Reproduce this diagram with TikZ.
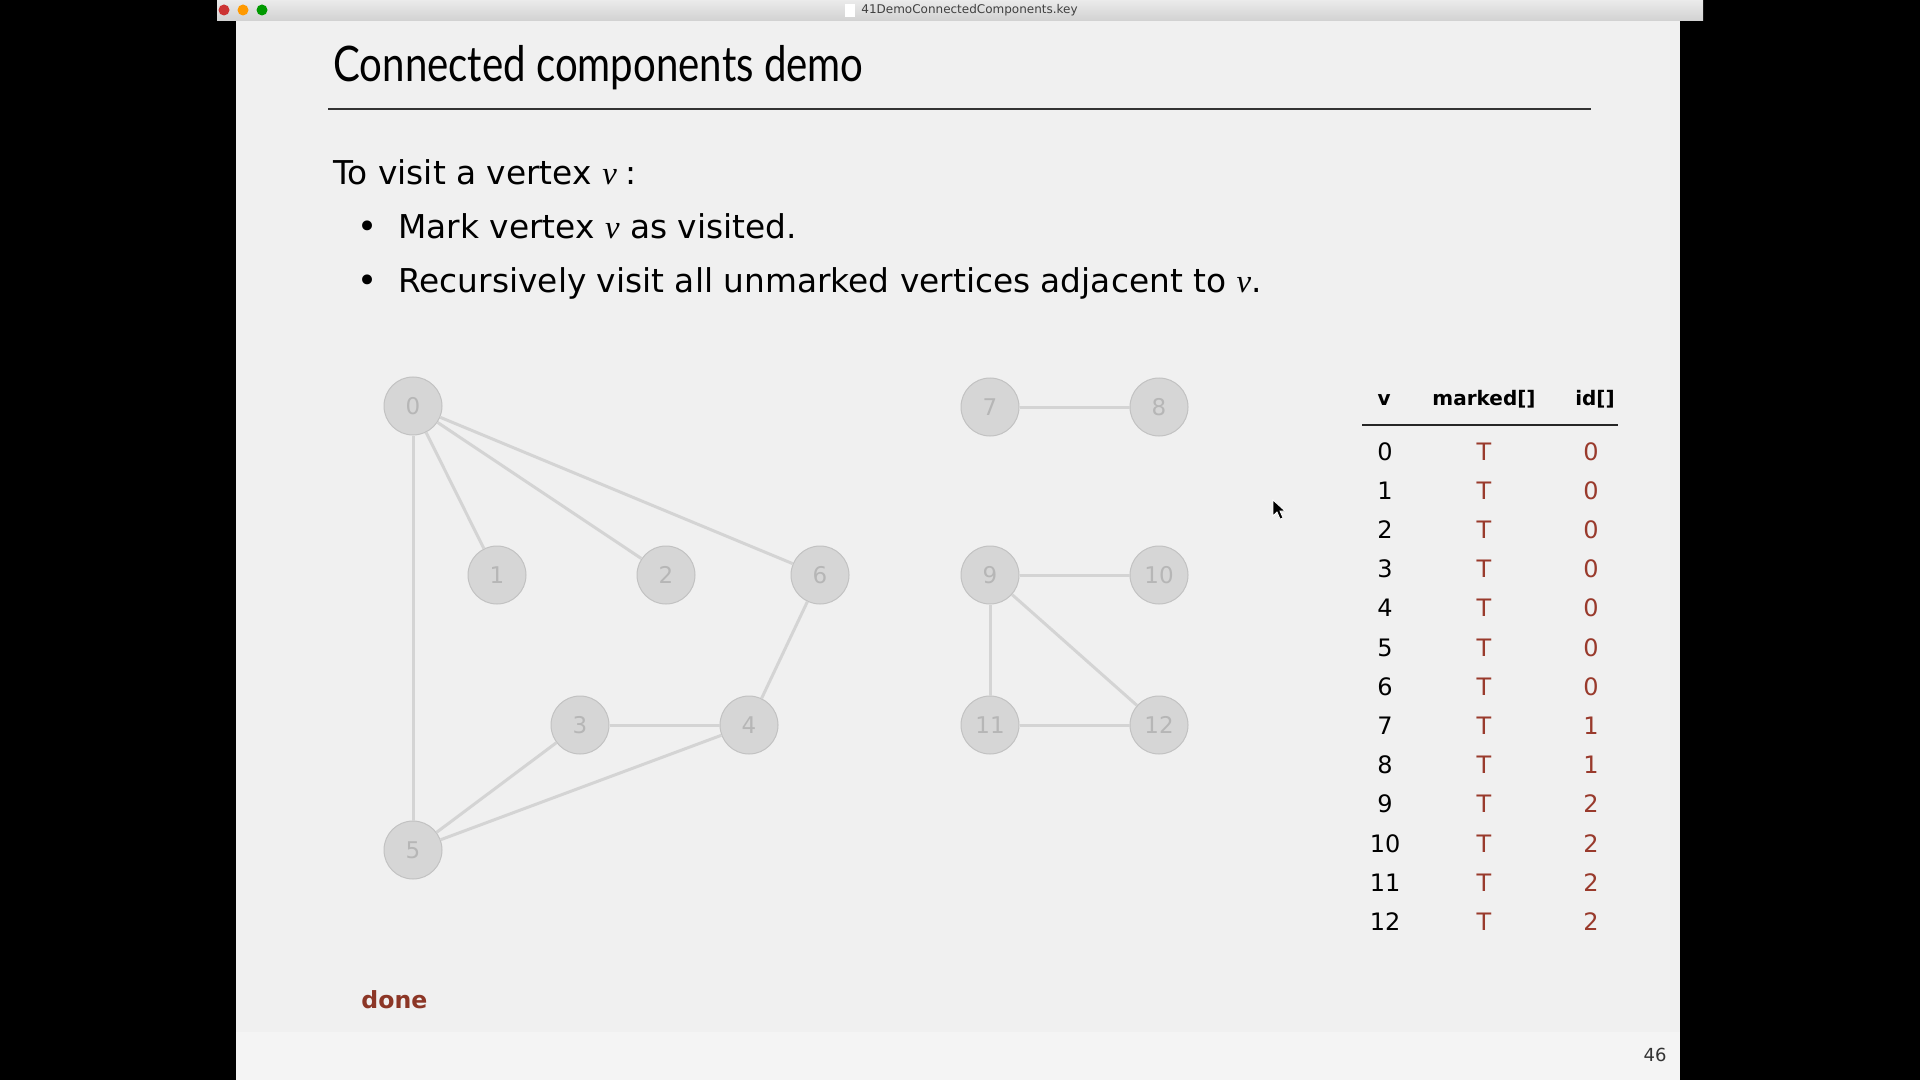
\documentclass[tikz,border=0pt]{standalone}
\usepackage{fontspec}
\setmainfont{DejaVu Sans}
\newfontfamily\titlefont{Lato}
\newfontfamily\varfont{Liberation Serif}
\usetikzlibrary{%
    calc,
    positioning
}
\definecolor{slidebg}{HTML}{F0F0F0}
\definecolor{bandbg}{HTML}{F4F4F4}
\definecolor{nodefill}{HTML}{D6D6D6}
\definecolor{nodeline}{HTML}{C2C2C2}
\definecolor{nodetext}{HTML}{B6B6B6}
\definecolor{edgegray}{HTML}{D4D4D4}
\definecolor{demored}{HTML}{993A2C}
\definecolor{donered}{HTML}{8C3626}
\tikzset{vertex/.style = {circle, fill=nodefill, draw=nodeline, line width=.5pt,
        minimum size=29pt, inner sep=0pt, text=nodetext,
        font=\fontsize{11.5}{12}\selectfont}}
\tikzset{graphedge/.style = {draw=edgegray, line width=1.5pt}}
\tikzset{bodytext/.style = {anchor=base west, inner sep=0pt, font=\fontsize{16.4}{20}\selectfont}}
\tikzset{headcell/.style = {anchor=base, inner sep=0pt, font=\fontsize{10}{12}\selectfont\bfseries}}
\tikzset{cell/.style = {anchor=base, inner sep=0pt, font=\fontsize{12}{14}\selectfont}}

\begin{document}
\begin{tikzpicture}[x=.5pt, y=-.5pt]
    \useasboundingbox (0,0) rectangle (1920,1080);
    \fill[black] (0,0) rectangle (1920,1080);
    \shade[top color=black!8, bottom color=black!18] (217,0) rectangle (1703,21);
    \fill[slidebg] (236,21) rectangle (1680,1080);
    \fill[bandbg] (236,1032) rectangle (1680,1080);
    \fill[red!75!black!80] (224,10) circle (5.5);
    \fill[orange!80!yellow] (243,10) circle (5.5);
    \fill[green!60!black] (262,10) circle (5.5);
    \fill[white] (845,4) rectangle (855,17);
    \node[anchor=west, inner sep=0pt, text=black!75, font=\fontsize{6}{7}\selectfont]
        (filename) at (861,10) {41DemoConnectedComponents.key};

    \node[anchor=base west, inner sep=0pt] (title) at (333,82)
        {\titlefont\fontsize{24.5}{28}\selectfont\scalebox{0.82}[1]{Connected components demo}};
    \draw[black!80, line width=1pt] (328,109) -- (1591,109);

    \node[bodytext] (visit) at (333,185) {To visit a vertex {\varfont\itshape v}\;:};
    \node[bodytext] (mark) at (398,239) {Mark vertex {\varfont\itshape v} as visited.};
    \node[bodytext] (recur) at (398,293) {Recursively visit all unmarked vertices adjacent to {\varfont\itshape v}.};
    \node[anchor=base, inner sep=0pt, font=\fontsize{17}{20}\selectfont] (b1) at (368,239) {\textbullet};
    \node[anchor=base, inner sep=0pt, font=\fontsize{17}{20}\selectfont] (b2) at (368,293) {\textbullet};

    \foreach \n/\x/\y in {%
        0/413/406, 1/497/575, 2/666/575, 6/820/575,
        3/580/725, 4/749/725, 5/413/850,
        7/990/407, 8/1159/407, 9/990/575, 10/1159/575,
        11/990/725, 12/1159/725%
        }
    \node[vertex] (\n) at (\x,\y) {\n};

    \foreach \a/\b in {0/5, 0/1, 0/2, 0/6, 6/4, 3/4, 3/5, 4/5,
        7/8, 9/10, 9/11, 9/12, 11/12}
    \draw[graphedge] (\a) -- (\b);

    \node[headcell] (hv) at (1384,405) {v};
    \node[headcell] (hmarked) at (1484,405) {marked[]};
    \node[headcell] (hid) at (1595,405) {id[]};
    \draw[black!85, line width=.75pt] (1362,425) -- (1618,425);

    \foreach \r/\c in {0/0, 1/0, 2/0, 3/0, 4/0, 5/0, 6/0, 7/1, 8/1, 9/2, 10/2, 11/2, 12/2} {
        \node[cell] (v\r) at (1385,{460+39.2*\r}) {\r};
        \node[cell, text=demored] (m\r) at (1484,{460+39.2*\r}) {T};
        \node[cell, text=demored] (id\r) at (1591,{460+39.2*\r}) {\c};
    }

    \node[anchor=base west, inner sep=0pt, text=donered, font=\fontsize{11.8}{14}\selectfont\bfseries]
        (done) at (361,1008) {done};
    \node[inner sep=0pt, text=black!80, font=\fontsize{9}{10}\selectfont] (page) at (1655,1055) {46};

    \filldraw[fill=black, draw=white, line width=.4pt]
        (1273,500) -- (1273,516) -- (1277,512) -- (1280,519) -- (1283,518)
        -- (1280,511) -- (1285,511) -- cycle;
\end{tikzpicture}
\end{document}
